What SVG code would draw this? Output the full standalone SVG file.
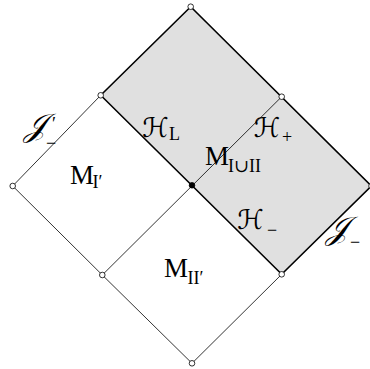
<svg xmlns="http://www.w3.org/2000/svg" width="370" height="369" viewBox="0 0 370 369">
<style>
.thick{stroke:#000;stroke-width:1.6;fill:none;stroke-linecap:round}
.thin{stroke:#000;stroke-width:0.8;fill:none}
.v{fill:#fff;stroke:#000;stroke-width:0.8}
.vc{fill:#000;stroke:#000;stroke-width:0.8}
.rm{font-family:"Liberation Serif","DejaVu Serif",serif;fill:#000}
.big{font-size:27px}
.sub{font-size:18px}
.scr{font-family:"DejaVu Serif","DejaVu Sans","Noto Sans",serif;font-style:italic;font-size:27px;fill:#000}
.scrj{font-family:"DejaVu Serif","DejaVu Sans","Noto Sans",serif;font-style:italic;font-size:32px;fill:#000}
.sym{font-family:"Liberation Serif","DejaVu Serif",serif;font-size:18px;fill:#000}
</style>
<rect width="370" height="369" fill="#fff"/>
<g id="region-IUII">
<polygon points="190.7,6.7 371.5,186 281.7,274.3 100.7,95.3" fill="#e0e0e0"/>
</g>
<g id="connectors">
<line class="thin" x1="100.7" y1="95.3" x2="12.7" y2="186"/>
<line class="thin" x1="12.7" y1="186" x2="102.3" y2="275"/>
<line class="thin" x1="102.3" y1="275" x2="192" y2="363.3"/>
<line class="thin" x1="192" y1="363.3" x2="281.7" y2="274.3"/>
<line class="thin" x1="102.3" y1="275" x2="281.7" y2="96.7"/>
<line class="thick" x1="190.7" y1="6.7" x2="100.7" y2="95.3"/>
<line class="thick" x1="190.7" y1="6.7" x2="371.5" y2="186"/>
<line class="thick" x1="371.5" y1="186" x2="281.7" y2="274.3"/>
<line class="thick" x1="281.7" y1="274.3" x2="100.7" y2="95.3"/>
</g>
<g id="vertices">
<circle class="v" cx="190.7" cy="6.7" r="2.8"/>
<circle class="v" cx="100.7" cy="95.3" r="2.8"/>
<circle class="v" cx="281.7" cy="96.7" r="2.8"/>
<circle class="v" cx="12.7" cy="186" r="2.8"/>
<circle class="v" cx="371.5" cy="186" r="2.8"/>
<circle class="v" cx="281.7" cy="274.3" r="2.8"/>
<circle class="v" cx="102.3" cy="275" r="2.8"/>
<circle class="v" cx="192" cy="363.3" r="2.8"/>
<circle class="vc" cx="192" cy="185.3" r="2.8"/>
</g>
<g id="label-MI">
<text class="rm big" x="70" y="183.5">M</text>
<text class="rm sub" x="92.5" y="187.5">I′</text>
</g>
<g id="label-MIUII">
<text class="rm big" x="205" y="165">M</text>
<text class="rm sub" x="228" y="172">I∪II</text>
</g>
<g id="label-MII">
<text class="rm big" x="164" y="276.7">M</text>
<text class="rm sub" x="187.5" y="283.5">II′</text>
</g>
<g id="label-HL">
<text class="scr" x="142" y="137">ℋ</text>
<text class="rm sub" x="169" y="140">L</text>
</g>
<g id="label-Hplus">
<text class="scr" x="253.5" y="137">ℋ</text>
<text class="sym" x="282" y="143">+</text>
</g>
<g id="label-Hminus">
<text class="scr" x="237" y="228.5">ℋ</text>
<text class="sym" x="267" y="236">−</text>
</g>
<g id="label-Jprime">
<text class="scrj" x="24" y="135.5">𝒥</text>
<text class="sym" x="52" y="130">′</text>
<text class="sym" x="46" y="149">−</text>
</g>
<g id="label-Jminus">
<text class="scrj" x="326" y="238.5">𝒥</text>
<text class="sym" x="350" y="248">−</text>
</g>
</svg>
